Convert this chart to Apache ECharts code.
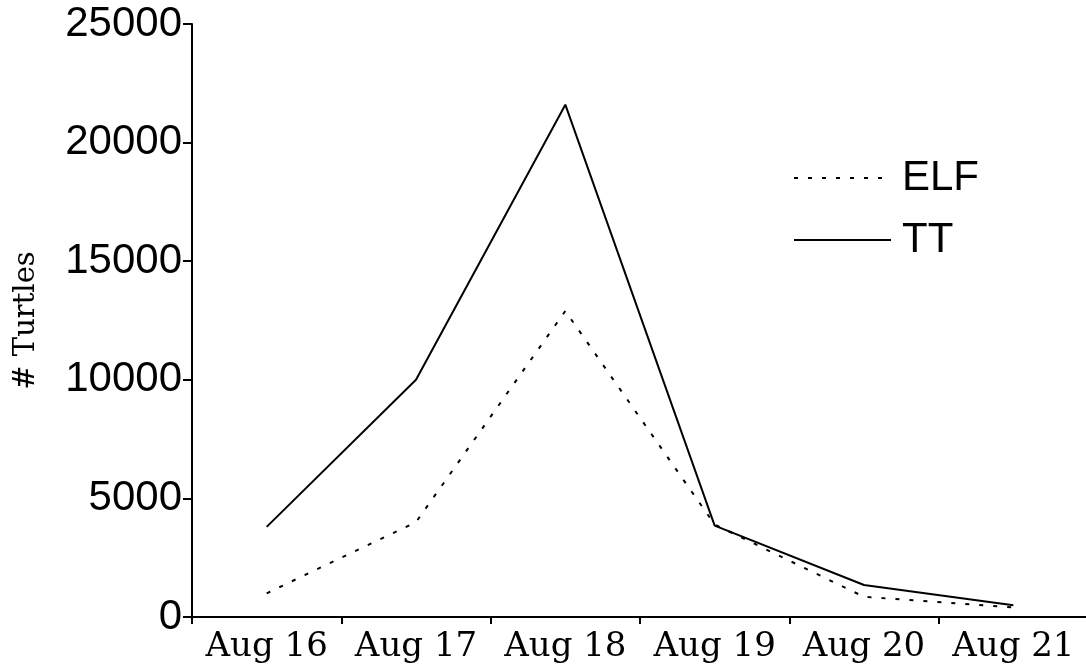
<!DOCTYPE html>
<html>
<head>
<meta charset="utf-8">
<title>Turtles</title>
<script src="https://cdn.jsdelivr.net/npm/echarts@6/dist/echarts.min.js"></script>
<style>
    html, body { margin: 0; padding: 0; background: #fff; }
    #turtles { width: 1086px; height: 672px; }
</style>
</head>
<body>
<div id="turtles"></div>
<script>
// data
var days = ['Aug 16', 'Aug 17', 'Aug 18', 'Aug 19', 'Aug 20', 'Aug 21'];
var elfCounts = [1000, 4000, 12900, 3900, 850, 400];
var ttCounts = [3800, 10000, 21600, 3850, 1350, 500];
var yTicks = [0, 5000, 10000, 15000, 20000, 25000];

(function () {
    var myChart = echarts.init(document.getElementById('turtles'));

    var option = {
        animation: false,
        backgroundColor: '#fff',
        grid: {
            left: 192,
            top: 24,
            right: -2,
            bottom: 55,
            containLabel: false,
            outerBoundsMode: 'none'
        },
        legend: {
            orient: 'vertical',
            left: 788,
            top: 152,
            itemWidth: 97,
            itemHeight: 10,
            itemGap: 20,
            itemStyle: { color: 'transparent', borderWidth: 0 },
            textStyle: {
                fontFamily: 'Liberation Sans',
                fontSize: 42,
                lineHeight: 42,
                color: '#000',
                padding: [0, 0, 0, 6]
            },
            data: ['ELF', 'TT']
        },
        xAxis: {
            type: 'category',
            data: days,
            boundaryGap: true,
            axisLine: { lineStyle: { color: '#000', width: 2 } },
            axisTick: { show: true, alignWithLabel: false, length: 7, lineStyle: { color: '#000', width: 2 } },
            axisLabel: {
                margin: 13,
                color: '#000',
                fontFamily: 'DejaVu Serif',
                fontSize: 34,
                interval: 0
            },
            splitLine: { show: false }
        },
        yAxis: {
            type: 'value',
            min: yTicks[0],
            max: yTicks[yTicks.length - 1],
            interval: yTicks[1] - yTicks[0],
            name: '# Turtles',
            nameLocation: 'middle',
            nameRotate: 90,
            nameGap: 151,
            nameTextStyle: {
                fontFamily: 'DejaVu Serif',
                fontSize: 29,
                color: '#000'
            },
            axisLine: { show: true, lineStyle: { color: '#000', width: 2 } },
            axisTick: { show: true, length: 9, lineStyle: { color: '#000', width: 2 } },
            axisLabel: {
                margin: 10,
                color: '#000',
                fontFamily: 'Liberation Sans',
                fontSize: 42,
                formatter: function (v) { return String(v); }
            },
            splitLine: { show: false }
        },
        series: [
            {
                name: 'ELF',
                type: 'line',
                data: elfCounts,
                symbol: 'none',
                showSymbol: false,
                lineStyle: { color: '#000', width: 2, type: [4, 10] },
                itemStyle: { color: '#000' }
            },
            {
                name: 'TT',
                type: 'line',
                data: ttCounts,
                symbol: 'none',
                showSymbol: false,
                lineStyle: { color: '#000', width: 2, type: 'solid' },
                itemStyle: { color: '#000' }
            }
        ]
    };

    myChart.setOption(option);
})();
</script>
</body>
</html>
